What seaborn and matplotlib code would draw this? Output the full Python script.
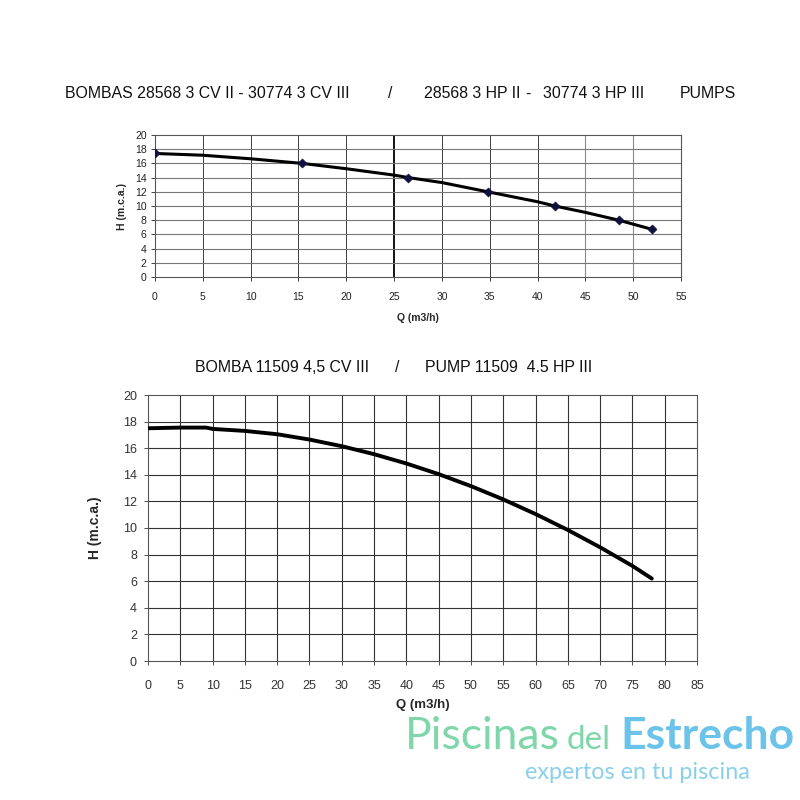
import matplotlib
matplotlib.use("Agg")
import matplotlib.pyplot as plt
import seaborn as sns
import pandas as pd

sns.set_theme(style="white")
plt.rcParams['font.family'] = ['Liberation Sans', 'DejaVu Sans']

# ---- data: top chart (pumps 28568 / 30774) ----
top_pts_q = [0, 15.4, 26.5, 34.8, 41.8, 48.5, 52.0]
top_pts_h = [17.4, 16.0, 14.0, 12.0, 10.0, 8.0, 6.7]
top_curve_q = [0, 5, 10, 15.4, 20, 25, 26.5, 30, 34.8, 40, 41.8, 45, 48.5, 52.0]
top_curve_h = [17.4, 17.15, 16.65, 16.0, 15.25, 14.35, 14.0, 13.3, 12.0, 10.6, 10.0, 9.1, 8.0, 6.7]

# ---- data: bottom chart (pump 11509) ----
bot_q = [0, 5, 9, 10, 15, 20, 25, 30, 35, 40, 45, 50, 55, 60, 65, 70, 75, 78]
bot_h = [17.5, 17.55, 17.55, 17.45, 17.3, 17.05, 16.65, 16.15, 15.55, 14.85, 14.05,
         13.15, 12.15, 11.05, 9.85, 8.55, 7.15, 6.2]

top_xticks = list(range(0, 56, 5))
top_yticks = list(range(0, 21, 2))
bot_xticks = list(range(0, 86, 5))
bot_yticks = list(range(0, 21, 2))

# title segments (text, left x in px)
title_top = [("BOMBAS 28568 3 CV II - 30774 3 CV III", 65), ("/", 388),
             ("28568 3 HP II", 424), ("-", 525), ("30774 3 HP III", 543), ("PUMPS", 680)]
title_bot = [("BOMBA 11509 4,5 CV III", 195), ("/", 395), ("PUMP 11509  4.5 HP III", 425)]

fig = plt.figure(figsize=(8, 8), dpi=100)
fig.patch.set_facecolor("white")

def px(x):
    return x / 800.0

# ---------- top chart ----------
ax1 = fig.add_axes([0.19375, 0.65375, 0.6575, 0.1775])
df_pts = pd.DataFrame({"Q": top_pts_q, "H": top_pts_h})
df_curve = pd.DataFrame({"Q": top_curve_q, "H": top_curve_h})
sns.lineplot(data=df_curve, x="Q", y="H", ax=ax1, color="black", lw=2.2, sort=True, zorder=3)
sns.scatterplot(data=df_pts, x="Q", y="H", ax=ax1, marker="D", s=22, color="#101040",
                edgecolor="#101040", zorder=4)
ax1.set_xlim(0, 55)
ax1.set_ylim(0, 20)
ax1.set_xticks(top_xticks)
ax1.set_yticks(top_yticks)
for x in top_xticks[1:-1]:
    if x == 25:
        c, w = "black", 1.3
    elif x in (45, 50):
        c, w = "#888888", 0.8
    else:
        c, w = "#404040", 0.7
    ax1.axvline(x, color=c, lw=w, zorder=1)
for y in top_yticks[1:-1]:
    ax1.axhline(y, color="#777777", lw=0.8, zorder=1)
for s in ax1.spines.values():
    s.set_color("#555555"); s.set_linewidth(0.8)
ax1.tick_params(axis="both", labelsize=7.5, colors="#222222", length=3, width=0.6,
                direction="out", bottom=True, left=True, pad=8)
ax1.tick_params(axis="y", pad=3)
ax1.set_xlabel("Q (m3/h)", fontsize=7.5, fontweight="bold", labelpad=8)
ax1.set_ylabel("H (m.c.a.)", fontsize=7.5, fontweight="bold", labelpad=6)
for txt, x in title_top:
    fig.text(px(x), 1 - 94 / 800, txt, ha="left", va="center", fontsize=11.4, color="#111111")

# ---------- bottom chart ----------
ax2 = fig.add_axes([0.185, 0.17375, 0.68625, 0.3325])
df_bot = pd.DataFrame({"Q": bot_q, "H": bot_h})
sns.lineplot(data=df_bot, x="Q", y="H", ax=ax2, color="black", lw=2.8, sort=True, zorder=3)
ax2.set_xlim(0, 85)
ax2.set_ylim(0, 20)
ax2.set_xticks(bot_xticks)
ax2.set_yticks(bot_yticks)
for x in bot_xticks[1:-1]:
    ax2.axvline(x, color="#333333", lw=0.8, zorder=1)
for y in bot_yticks[1:-1]:
    ax2.axhline(y, color="#333333", lw=0.8, zorder=1)
for s in ax2.spines.values():
    s.set_color("#555555"); s.set_linewidth(0.8)
ax2.tick_params(axis="both", labelsize=9, colors="#333333", length=3, width=0.6,
                direction="out", bottom=True, left=True, pad=11)
ax2.tick_params(axis="y", pad=5)
ax2.set_xlabel("Q (m3/h)", fontsize=9.5, fontweight="bold", labelpad=5)
ax2.set_ylabel("H (m.c.a.)", fontsize=10, fontweight="bold", labelpad=15)
for txt, x in title_bot:
    fig.text(px(x), 1 - 368 / 800, txt, ha="left", va="center", fontsize=11.4, color="#111111")

# ---------- logo ----------
base = 1 - 749 / 800
fig.text(px(405), base, "Piscinas", ha="left", va="baseline", fontsize=32,
         color="#7fd6a8", family=["Lato", "DejaVu Sans"])
fig.text(px(567), base, "del", ha="left", va="baseline", fontsize=24,
         color="#7fd6a8", family=["Lato", "DejaVu Sans"])
fig.text(px(620), base, "Estrecho", ha="left", va="baseline", fontsize=32,
         color="#6cc3ea", fontweight="bold", family=["Lato", "DejaVu Sans"])
fig.text(px(525), 1 - 779 / 800, "expertos en tu piscina", ha="left", va="baseline",
         fontsize=16.8, color="#8ad0ea", family=["Lato", "DejaVu Sans"])

fig.savefig("out.png", dpi=100, facecolor="white")
